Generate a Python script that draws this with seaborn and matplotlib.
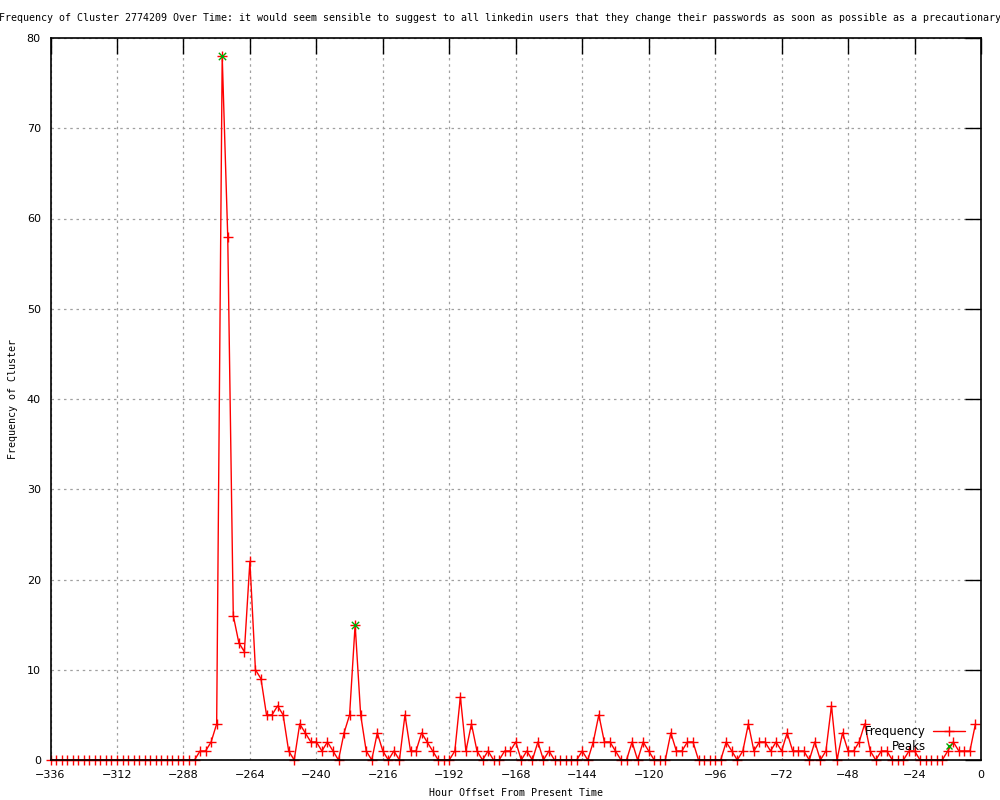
import matplotlib
matplotlib.use("Agg")
import matplotlib.pyplot as plt
import seaborn as sns
import pandas as pd
from matplotlib.lines import Line2D

# ---- data ----
hours = list(range(-336, 0, 2))
freq = (
    [0] * 25 +                                           # -336 .. -288
    [0, 0, 1, 1, 2, 4, 78, 58, 16, 13, 12, 22,           # -286 .. -264
     10, 9, 5, 5, 6, 5, 1, 0, 4, 3, 2, 2] +              # -262 .. -240
    [1, 2, 1, 0, 3, 5, 15, 5, 1, 0, 3, 1,                # -238 .. -216
     0, 1, 0, 5, 1, 1, 3, 2, 1, 0, 0, 0] +               # -214 .. -192
    [1, 7, 1, 4, 1, 0, 1, 0, 0, 1, 1, 2,                 # -190 .. -168
     0, 1, 0, 2, 0, 1, 0, 0, 0, 0, 0, 1] +               # -166 .. -144
    [0, 2, 5, 2, 2, 1, 0, 0, 2, 0, 2, 1,                 # -142 .. -120
     0, 0, 0, 3, 1, 1, 2, 2, 0, 0, 0, 0] +               # -118 .. -96
    [0, 2, 1, 0, 1, 4, 1, 2, 2, 1, 2, 1,                 # -94 .. -72
     3, 1, 1, 1, 0, 2, 0, 1, 6, 0, 3, 1] +               # -70 .. -48
    [1, 2, 4, 1, 0, 1, 1, 0, 0, 0, 1,                    # -46 .. -26
     1, 0, 0, 0, 0, 0, 1, 2, 1, 1, 1, 4]                 # -24 .. -2
)
peak_hours = [-274, -226]
peak_values = [78, 15]

x_ticks = list(range(-336, 1, 24))
y_ticks = list(range(0, 81, 10))

title = ("Frequency of Cluster 2774209 Over Time: it would seem sensible to suggest to all "
         "linkedin users that they change their passwords as soon as possible as a precautionary")
xlabel = "Hour Offset From Present Time"
ylabel = "Frequency of Cluster"

df = pd.DataFrame({"hour": hours, "freq": freq})
peaks = pd.DataFrame({"hour": peak_hours, "freq": peak_values})

sns.set_style("white")
plt.rcParams["font.family"] = ["DejaVu Sans"]
plt.rcParams["text.color"] = "black"
plt.rcParams["axes.labelcolor"] = "black"

fig = plt.figure(figsize=(10, 8), dpi=100)
ax = fig.add_axes([0.0505, 0.05, 0.9305, 0.9025])

red = "#ff0000"
green = "#00a800"

sns.lineplot(data=df, x="hour", y="freq", ax=ax, color=red, lw=1.0,
             marker="+", markersize=6.5, markeredgewidth=1.0, markeredgecolor=red,
             clip_on=False, zorder=2)
sns.scatterplot(data=peaks, x="hour", y="freq", ax=ax, color=green, marker="x",
                s=28, linewidth=1.0, zorder=3, clip_on=False)

ax.set_xlim(-336, 0)
ax.set_ylim(0, 80)
ax.set_xticks(x_ticks)
ax.set_yticks(y_ticks)
ax.set_xticklabels([str(t).replace("-", "\u2212") for t in x_ticks])

ax.grid(True, linestyle=(0, (2, 3)), color="#a0a0a0", lw=0.9)
ax.set_axisbelow(True)
for s in ax.spines.values():
    s.set_visible(True)
    s.set_color("black")
    s.set_linewidth(1.2)

ax.tick_params(direction="in", length=11.5, width=1, colors="black",
               labelcolor="black", top=True, right=True, labelsize=8, pad=7)

mono = "DejaVu Sans Mono"
ax.set_xlabel(xlabel, family=mono, fontsize=7.2, labelpad=6, color="black")
ax.set_ylabel(ylabel, family=mono, fontsize=7.2, va="center", color="black")
ax.yaxis.set_label_coords(-0.0405, 0.5)
fig.text(0.5, 0.977, title, ha="center", va="center", family=mono, fontsize=7.2,
         color="black")

handles = [
    Line2D([0], [0], color=red, lw=1.0, marker="+", markersize=6.5, markeredgewidth=1.0),
    Line2D([0], [0], color=green, lw=0, marker="x", markersize=5, markeredgewidth=1.0),
]
ax.legend(handles, ["Frequency", "Peaks"], loc="lower right", markerfirst=False,
          frameon=False, fontsize=8.5, handlelength=2.7, handletextpad=0.6,
          labelspacing=0.15, bbox_to_anchor=(0.988, 0.003), borderaxespad=0,
          labelcolor="black")

fig.savefig("out.png", dpi=100)
